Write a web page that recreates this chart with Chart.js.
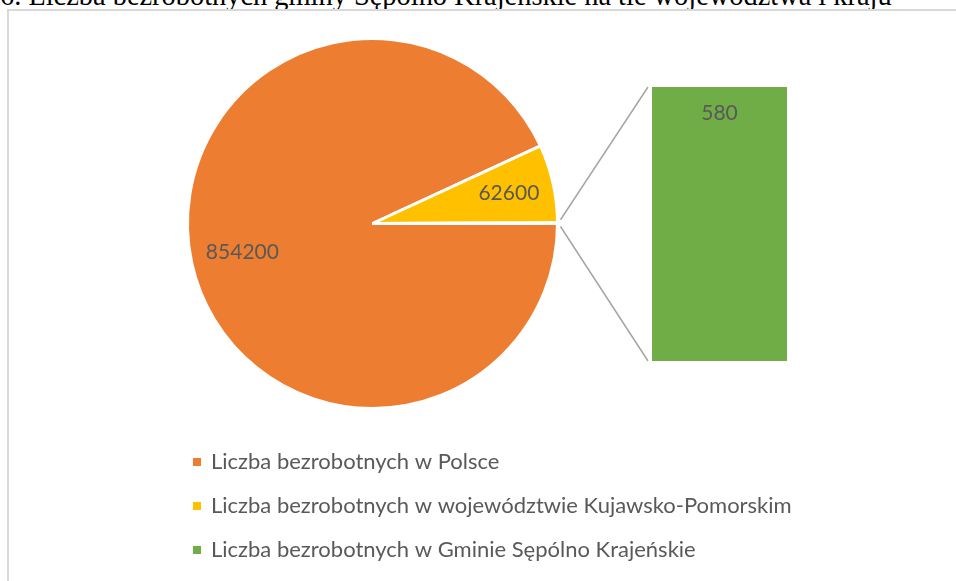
<!DOCTYPE html>
<html lang="pl">
<head>
<meta charset="utf-8">
<script src="https://cdn.jsdelivr.net/npm/chart.js@4"></script>
<style>
  html, body { margin: 0; padding: 0; background: #fff; }
  body { width: 956px; height: 581px; position: relative; overflow: hidden; }
  #title {
    position: absolute; left: 0px; top: -19px;
    font: 28.4px "Liberation Serif", "Times New Roman", serif; line-height: 29px;
    white-space: nowrap; color: #000;
  }
  #frame {
    position: absolute; left: 7px; top: 9px; width: 1000px; height: 640px;
    border: 2px solid #d9d9d9; box-sizing: border-box;
  }
  canvas { position: absolute; left: 0; top: 0; }
</style>
</head>
<body>
<div id="title">6. Liczba bezrobotnych gminy Sępólno Krajeńskie na tle województwa i kraju</div>
<div id="frame"></div>
<canvas id="pieChart" width="956" height="581"></canvas>
<canvas id="barChart" width="956" height="581"></canvas>
<script>
/* ---------- Data ---------- */

const labels = [
  "Liczba bezrobotnych w Polsce",
  "Liczba bezrobotnych w województwie Kujawsko-Pomorskim",
  "Liczba bezrobotnych w Gminie Sępólno Krajeńskie"
];
const values = [854200, 62600, 580];
const colors = ["#ED7D31", "#FFC000", "#70AD47"];
const pieLabelled = 2;          // first two slices carry a label on the pie
const barValues = [values[2]];  // the split-off part shown as a bar

/* ---------- Style ---------- */

const LABEL_FONT = "21px Lato, 'Open Sans', sans-serif";
const LEGEND_FONT = "22px Lato, 'Open Sans', sans-serif";
const TEXT = "#595959";
const LINE = "#A5A5A5";
const labelRadius = [0.72, 0.755];
const legendX = 193, legendTop = 462, legendGap = 44;

/* ---------- Bar (second plot) ---------- */

const barLabel = {
  id: "barLabel",
  afterDatasetsDraw(chart) {
    const ctx = chart.ctx;
    const bar = chart.getDatasetMeta(0).data[0];
    ctx.save();
    ctx.font = LABEL_FONT;
    ctx.fillStyle = TEXT;
    ctx.textAlign = "center";
    ctx.textBaseline = "middle";
    ctx.fillText(String(barValues[0]), bar.x, bar.y + 26);
    ctx.restore();
  }
};

const barChart = new Chart(document.getElementById("barChart"), {
  type: "bar",
  data: {
    labels: [""],
    datasets: [{
      data: barValues,
      backgroundColor: colors[2],
      barPercentage: 1,
      categoryPercentage: 1
    }]
  },
  options: {
    responsive: false,
    animation: false,
    devicePixelRatio: 1,
    layout: { padding: { left: 652, right: 169, top: 87, bottom: 220 } },
    scales: {
      x: { display: false },
      y: { display: false, min: 0, max: barValues[0] }
    },
    plugins: { legend: { display: false }, tooltip: { enabled: false } }
  },
  plugins: [barLabel]
});

/* ---------- Pie ---------- */

const pieExtras = {
  id: "pieExtras",
  afterDatasetsDraw(chart) {
    const ctx = chart.ctx;
    const arcs = chart.getDatasetMeta(0).data;
    ctx.save();

    // data labels
    ctx.font = LABEL_FONT;
    ctx.fillStyle = TEXT;
    ctx.textAlign = "center";
    ctx.textBaseline = "middle";
    for (let i = 0; i < pieLabelled; i++) {
      const a = arcs[i];
      const mid = (a.startAngle + a.endAngle) / 2;
      const r = a.outerRadius * labelRadius[i];
      ctx.fillText(String(values[i]), a.x + Math.cos(mid) * r, a.y + Math.sin(mid) * r);
    }

    // connector lines to the bar
    const other = arcs[2];
    const bar = barChart.getDatasetMeta(0).data[0];
    const barLeft = bar.x - bar.width / 2 - 4;
    const r = other.outerRadius + 3;
    ctx.strokeStyle = LINE;
    ctx.lineWidth = 1.5;
    ctx.beginPath();
    ctx.moveTo(other.x + Math.cos(other.startAngle) * r, other.y + Math.sin(other.startAngle) * r - 3);
    ctx.lineTo(barLeft, bar.y);
    ctx.moveTo(other.x + Math.cos(other.endAngle) * r, other.y + Math.sin(other.endAngle) * r + 3);
    ctx.lineTo(barLeft, bar.base);
    ctx.stroke();

    // legend
    ctx.font = LEGEND_FONT;
    ctx.textAlign = "left";
    labels.forEach((label, i) => {
      const y = legendTop + i * legendGap;
      ctx.fillStyle = colors[i];
      ctx.fillRect(legendX, y - 4, 8, 8);
      ctx.fillStyle = TEXT;
      ctx.fillText(label, legendX + 18, y);
    });

    ctx.restore();
  }
};

new Chart(document.getElementById("pieChart"), {
  type: "pie",
  data: {
    labels,
    datasets: [{
      data: values,
      backgroundColor: colors,
      borderColor: "#ffffff",
      borderWidth: 3,
      hoverOffset: 0
    }]
  },
  options: {
    responsive: false,
    animation: false,
    devicePixelRatio: 1,
    rotation: 90,
    layout: { padding: { left: 186, right: 397, top: 37, bottom: 171 } },
    plugins: { legend: { display: false }, tooltip: { enabled: false } }
  },
  plugins: [pieExtras]
});
</script>
</body>
</html>
